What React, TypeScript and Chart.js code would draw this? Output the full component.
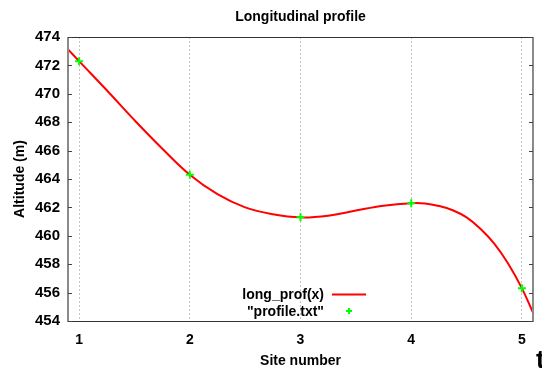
import React, { useEffect, useRef } from "react";
import { Chart, registerables } from "chart.js";

Chart.register(...registerables);

const chartTitle = "Longitudinal profile";
const xTitle = "Site number";
const yTitle = "Altitude (m)";
const curveLabel = "long_prof(x)";
const pointsLabel = '"profile.txt"';

const curveX = [0.9, 1, 1.25, 1.5, 1.75, 2, 2.25, 2.5, 2.75, 3, 3.25, 3.5, 3.75, 4, 4.125, 4.25, 4.375, 4.5, 4.625, 4.75, 4.875, 5, 5.1];
const curveY = [473.13, 472.3, 470.25, 468.15, 466.15, 464.3, 462.93, 462.0, 461.52, 461.3, 461.42, 461.78, 462.12, 462.3, 462.28, 462.1, 461.8, 461.3, 460.5, 459.45, 458.05, 456.3, 454.6];

const siteNumbers = [1, 2, 3, 4, 5];
const siteAltitudes = [472.3, 464.3, 461.3, 462.3, 456.3];

const xTicks = [1, 2, 3, 4, 5];
const yTicks = [454, 456, 458, 460, 462, 464, 466, 468, 470, 472, 474];

const FONT = "'Liberation Sans', Arial, Helvetica, sans-serif";

const decorPlugin = {
  id: "decor",
  afterDatasetsDraw(chart: any) {
    const { ctx, chartArea: a } = chart;
    const ys = chart.scales.y;
    ctx.save();
    ctx.strokeStyle = "#333";
    ctx.lineWidth = 1;
    ctx.beginPath();
    ctx.moveTo(a.left, a.top + 0.5);
    ctx.lineTo(a.right, a.top + 0.5);
    ctx.moveTo(a.left, a.bottom + 0.5);
    ctx.lineTo(a.right, a.bottom + 0.5);
    ctx.stroke();
    ctx.strokeStyle = "#8a8a8a";
    ctx.lineWidth = 2;
    ctx.beginPath();
    ctx.moveTo(a.left, a.top);
    ctx.lineTo(a.left, a.bottom + 1);
    ctx.moveTo(a.right, a.top);
    ctx.lineTo(a.right, a.bottom + 1);
    ctx.stroke();
    ctx.strokeStyle = "#444";
    ctx.lineWidth = 1;
    ctx.beginPath();
    yTicks.forEach((v) => {
      const py = Math.round(ys.getPixelForValue(v)) + 0.5;
      ctx.moveTo(a.left, py);
      ctx.lineTo(a.left + 4, py);
      ctx.moveTo(a.right - 4, py);
      ctx.lineTo(a.right, py);
    });
    ctx.stroke();
    ctx.restore();
  },
  afterDraw(chart: any) {
    const { ctx, chartArea: a } = chart;
    ctx.save();
    ctx.fillStyle = "#000";
    ctx.font = `bold 14px ${FONT}`;
    ctx.textAlign = "center";
    ctx.textBaseline = "middle";
    ctx.fillText(chartTitle, (a.left + a.right) / 2, 17);
    ctx.fillText(xTitle, (a.left + a.right) / 2, 361);
    ctx.save();
    ctx.translate(20, (a.top + a.bottom) / 2);
    ctx.rotate(-Math.PI / 2);
    ctx.fillText(yTitle, 0, 0);
    ctx.restore();
    ctx.textAlign = "right";
    ctx.fillText(curveLabel, 324, 295);
    ctx.fillText(pointsLabel, 324, 312);
    ctx.strokeStyle = "#ff0000";
    ctx.lineWidth = 2;
    ctx.beginPath();
    ctx.moveTo(332, 294.5);
    ctx.lineTo(366, 294.5);
    ctx.stroke();
    ctx.strokeStyle = "#00ff00";
    ctx.lineWidth = 2;
    ctx.beginPath();
    ctx.moveTo(346, 311);
    ctx.lineTo(352, 311);
    ctx.moveTo(349, 308);
    ctx.lineTo(349, 314);
    ctx.stroke();
    ctx.restore();
  },
};

export default function App() {
  const canvasRef = useRef<HTMLCanvasElement | null>(null);

  useEffect(() => {
    const canvas = canvasRef.current;
    if (!canvas) return;
    const chart = new Chart(canvas, {
      type: "scatter",
      data: {
        datasets: [
          {
            label: curveLabel,
            data: curveX.map((x, i) => ({ x, y: curveY[i] })),
            showLine: true,
            borderColor: "#ff0000",
            borderWidth: 2,
            pointRadius: 0,
            tension: 0.4,
            order: 2,
          },
          {
            label: pointsLabel,
            data: siteNumbers.map((x, i) => ({ x, y: siteAltitudes[i] })),
            showLine: false,
            pointStyle: "cross",
            pointRadius: 4,
            borderColor: "#00ff00",
            backgroundColor: "#00ff00",
            borderWidth: 2,
            order: 1,
          },
        ],
      },
      options: {
        responsive: false,
        animation: false,
        devicePixelRatio: 1,
        layout: { padding: { top: 37, right: 9, bottom: 0, left: 0 } },
        plugins: {
          legend: { display: false },
          title: { display: false },
          tooltip: { enabled: false },
        },
        scales: {
          x: {
            type: "linear",
            min: 0.9,
            max: 5.1,
            afterBuildTicks: (axis: any) => {
              axis.ticks = xTicks.map((v) => ({ value: v }));
            },
            afterFit: (axis: any) => {
              axis.height = 47;
            },
            grid: { color: "#c4c4c4", drawTicks: false, lineWidth: 1 },
            border: { display: false, dash: [2, 2] },
            ticks: {
              padding: 11,
              color: "#000",
              font: { family: FONT, size: 14, weight: "bold" },
              maxRotation: 0,
              callback: (v: any) => String(v),
            },
          },
          y: {
            min: 454,
            max: 474,
            afterBuildTicks: (axis: any) => {
              axis.ticks = yTicks.map((v) => ({ value: v }));
            },
            afterFit: (axis: any) => {
              axis.width = 68;
            },
            grid: { display: false, drawTicks: false },
            border: { display: false },
            ticks: {
              padding: 8,
              color: "#000",
              font: { family: FONT, size: 15, weight: "bold" },
              callback: (v: any) => String(v),
            },
          },
        },
      },
      plugins: [decorPlugin],
    });
    return () => chart.destroy();
  }, []);

  return (
    <div
      style={{
        position: "fixed",
        left: 0,
        top: 0,
        width: 542,
        height: 368,
        overflow: "hidden",
        background: "#fff",
      }}
    >
      <canvas ref={canvasRef} width={542} height={368} style={{ display: "block" }} />
      <span
        style={{
          position: "absolute",
          left: 536,
          top: 344,
          fontFamily: FONT,
          fontWeight: "bold",
          fontSize: 26,
          lineHeight: "30px",
          color: "#000",
        }}
      >
        t
      </span>
    </div>
  );
}
